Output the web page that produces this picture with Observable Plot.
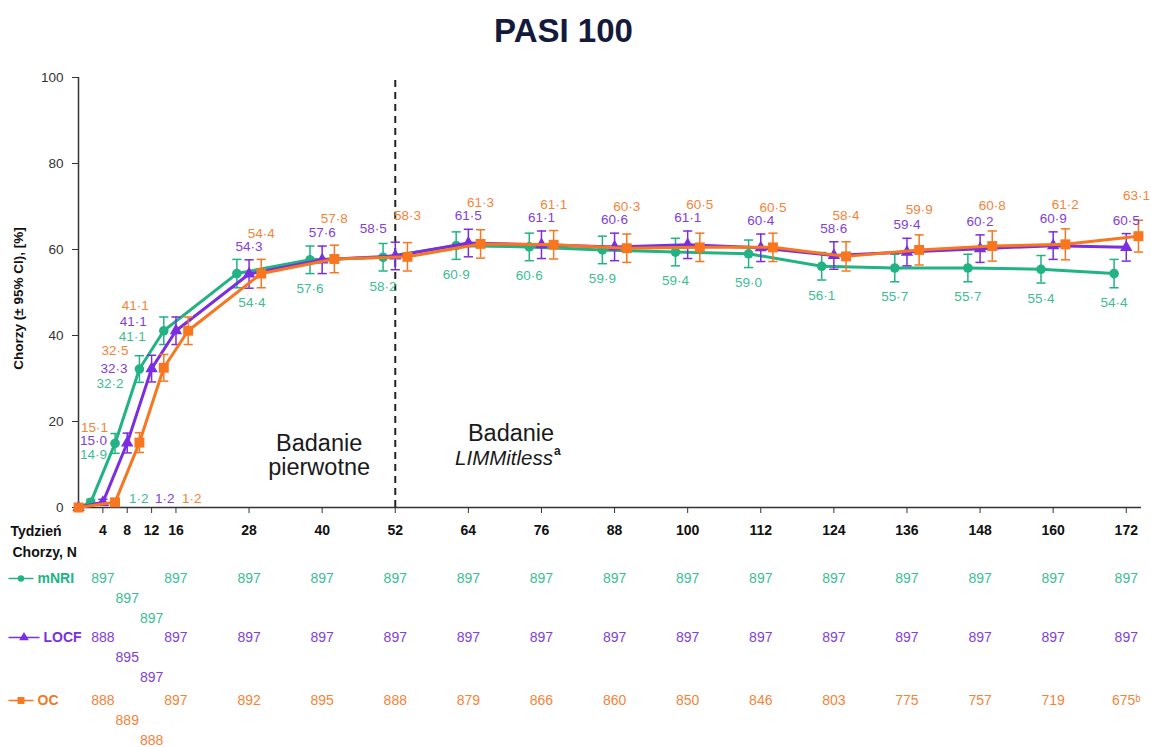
<!DOCTYPE html>
<html>
<head>
<meta charset="utf-8">
<script src="https://cdn.jsdelivr.net/npm/d3@7"></script>
<script src="https://cdn.jsdelivr.net/npm/@observablehq/plot@0.6"></script>
<style>
  html, body { margin: 0; padding: 0; background: #fff; }
  #title { width: 1151px; height: 56px; line-height: 62px; text-align: center; box-sizing: border-box; padding-right: 24px;
           font-family: "Liberation Sans", Arial, sans-serif; font-weight: bold; font-size: 33px; color: #141a3c; }
  #chart svg { display: block; }
</style>
</head>
<body>
<div id="title">PASI 100</div>
<div id="chart"></div>
<script>
// ---------- data ----------
const weeks = [0, 4, 8, 12, 16, 28, 40, 52, 64, 76, 88, 100, 112, 124, 136, 148, 160, 172];
const mnri  = [0, 1.2, 14.9, 32.2, 41.1, 54.4, 57.6, 58.2, 60.9, 60.6, 59.9, 59.4, 59.0, 56.1, 55.7, 55.7, 55.4, 54.4];
const locf  = [0, 1.2, 15.0, 32.3, 41.1, 54.3, 57.6, 58.5, 61.5, 61.1, 60.6, 61.1, 60.4, 58.6, 59.4, 60.2, 60.9, 60.5];
const oc    = [0, 1.2, 15.1, 32.5, 41.1, 54.4, 57.8, 58.3, 61.3, 61.1, 60.3, 60.5, 60.5, 58.4, 59.9, 60.8, 61.2, 63.1];
// 95% CI half-widths
const ciMnri = [0, 0.7, 2.3, 3.1, 3.2, 3.3, 3.2, 3.2, 3.2, 3.2, 3.2, 3.2, 3.2, 3.2, 3.2, 3.2, 3.2, 3.3];
const ciLocf = [0, 0.7, 2.3, 3.1, 3.2, 3.3, 3.2, 3.2, 3.2, 3.2, 3.2, 3.2, 3.2, 3.2, 3.2, 3.2, 3.2, 3.2];
const ciOc   = [0, 0.7, 2.3, 3.1, 3.2, 3.3, 3.2, 3.3, 3.3, 3.3, 3.3, 3.3, 3.3, 3.4, 3.5, 3.5, 3.6, 3.7];

const xTicks = [4, 8, 12, 16, 28, 40, 52, 64, 76, 88, 100, 112, 124, 136, 148, 160, 172];
const tableWeeks = [4, 8, 12, 16, 28, 40, 52, 64, 76, 88, 100, 112, 124, 136, 148, 160, 172];
const nMnri = [897, 897, 897, 897, 897, 897, 897, 897, 897, 897, 897, 897, 897, 897, 897, 897, 897];
const nLocf = [888, 895, 897, 897, 897, 897, 897, 897, 897, 897, 897, 897, 897, 897, 897, 897, 897];
const nOc   = ["888", "889", "888", "897", "892", "895", "888", "879", "866", "860", "850", "846", "803", "775", "757", "719", "675ᵇ"];

const seriesNames = ["mNRI", "LOCF", "OC"];
const yLabel = "Chorzy (± 95% CI), [%]";
const rowHeader = "Tydzień";
const tableHeader = "Chorzy, N";
const phase1 = "Badanie\npierwotne";
const phase2a = "Badanie";
const phase2b = "LIMMitless";

// ---------- style ----------
const SANS = "'Liberation Sans', Arial, sans-serif";
const colors = { mNRI: "#22b384", LOCF: "#7a2ee0", OC: "#f7761f" };
const textColors = { mNRI: "#3dbd93", LOCF: "#8140dc", OC: "#f3843a" };
const symbols = { mNRI: "circle", LOCF: "triangle", OC: "square" };
const radii = { mNRI: 4.8, LOCF: 4.6, OC: 5.6 };
const offsets = { mNRI: -2, LOCF: 0, OC: 2 }; // horizontal dodge, in weeks

const capSymbol = { draw(ctx, size) { const w = Math.sqrt(size / Math.PI); ctx.moveTo(-w, 0); ctx.lineTo(w, 0); } };
const fmt = v => v.toFixed(1).replace(".", "·");

const seriesData = {
  mNRI: { v: mnri, ci: ciMnri, n: nMnri },
  LOCF: { v: locf, ci: ciLocf, n: nLocf },
  OC:   { v: oc,   ci: ciOc,   n: nOc }
};

const marks = [];

// axes
marks.push(Plot.ruleY([0], { stroke: "#333", strokeWidth: 1.5 }));
marks.push(Plot.ruleX([0], { stroke: "#333", strokeWidth: 1.5 }));
marks.push(Plot.axisY({ ticks: [0, 20, 40, 60, 80, 100], tickSize: 6, tickPadding: 9, fontSize: 13.5, fontFamily: SANS, fill: "#333", stroke: "#333", label: null }));
marks.push(Plot.axisX(xTicks, { tickSize: 6, tickPadding: 12, fontSize: 14, fontWeight: "bold", fontFamily: SANS, fill: "#111", stroke: "#333", label: null }));
marks.push(Plot.ruleX([52], { y1: 99.3, y2: 0, stroke: "#222", strokeWidth: 2, strokeDasharray: "7,5" }));

// y label
marks.push(Plot.text([yLabel], { text: d => d, frameAnchor: "left", textAnchor: "middle", lineAnchor: "middle", rotate: -90, dx: -60, dy: 6, fontSize: 13.5, fontWeight: "bold", fontFamily: SANS, fill: "#111" }));

// phase annotations
marks.push(Plot.text([phase1], { x: 39.5, y: 12.1, text: d => d, fontSize: 23.5, lineHeight: 1.03, fontFamily: SANS, fill: "#1a1a1a" }));
marks.push(Plot.text([phase2a], { x: 71, y: 17.2, text: d => d, fontSize: 23.5, fontFamily: SANS, fill: "#1a1a1a" }));
marks.push(Plot.text([phase2b], { x: 71, y: 11.4, text: d => d, dx: 42, textAnchor: "end", fontSize: 20.5, fontStyle: "italic", fontFamily: SANS, fill: "#1a1a1a" }));
marks.push(Plot.text(["a"], { x: 71, y: 11.4, text: d => d, dx: 43, dy: -7, textAnchor: "start", fontSize: 12, fontWeight: "bold", fontFamily: SANS, fill: "#1a1a1a" }));

// series
for (const key of seriesNames) {
  const s = seriesData[key];
  const rows = weeks.map((w, i) => ({ week: w, v: s.v[i], lo: s.v[i] - s.ci[i], hi: s.v[i] + s.ci[i], xp: w === 0 ? 0 : w + offsets[key] }));
  const bars = rows.filter(d => d.week > 0);
  const c = colors[key];
  marks.push(Plot.line(rows, { x: "xp", y: "v", stroke: c, strokeWidth: 3 }));
  marks.push(Plot.ruleX(bars, { x: "xp", y1: "lo", y2: "hi", stroke: c, strokeWidth: 1.5 }));
  marks.push(Plot.dot(bars, { x: "xp", y: "lo", symbol: capSymbol, r: 4.6, stroke: c, strokeWidth: 1.5, fill: "none" }));
  marks.push(Plot.dot(bars, { x: "xp", y: "hi", symbol: capSymbol, r: 4.6, stroke: c, strokeWidth: 1.5, fill: "none" }));
  marks.push(Plot.dot(rows, { x: "xp", y: "v", symbol: symbols[key], r: radii[key], fill: c, stroke: "none" }));
}

// value labels
const early = {
  8:  { mNRI: [-8, 11],  LOCF: [-8, -2],  OC: [-7, -15] },
  12: { mNRI: [-16, 15], LOCF: [-12, 0],  OC: [-11, -17] },
  16: { mNRI: [-18, 6],  LOCF: [-17, -9], OC: [-15, -25] }
};
const week4dx = { mNRI: 36, LOCF: 62, OC: 89 };
const labelStyle = { fontSize: 13.5, fontFamily: SANS };
for (const key of seriesNames) {
  const s = seriesData[key];
  weeks.forEach((w, i) => {
    if (w === 0) return;
    const d = { week: w, v: s.v[i], top: Math.max(locf[i], oc[i]), label: fmt(s.v[i]) };
    const fill = textColors[key];
    if (w === 4) {
      marks.push(Plot.text([d], { x: "week", y: "v", text: "label", dx: week4dx[key], dy: -4, fill, ...labelStyle }));
    } else if (early[w]) {
      const [dx, dy] = early[w][key];
      marks.push(Plot.text([d], { x: r => r.week + offsets.mNRI, y: "v", text: "label", dx, dy, textAnchor: "end", fill, ...labelStyle }));
    } else if (key === "OC") {
      marks.push(Plot.text([d], { x: r => r.week + offsets.OC, y: "top", text: "label", dx: w === 172 ? -2 : 0, dy: -40, fill, ...labelStyle }));
    } else if (key === "LOCF") {
      marks.push(Plot.text([d], { x: r => r.week + offsets.LOCF, y: "v", text: "label", dx: w === 52 ? -22 : 0, dy: -27, fill, ...labelStyle }));
    } else {
      marks.push(Plot.text([d], { x: r => r.week + offsets.mNRI, y: "v", text: "label", dx: w === 28 ? 15 : 0, dy: 29, fill, ...labelStyle }));
    }
  });
}

// table below the axis
const tableStyle = { fontSize: 14, fontFamily: SANS, frameAnchor: "bottom", lineAnchor: "middle" };
marks.push(Plot.text([rowHeader], { text: d => d, frameAnchor: "bottom-left", lineAnchor: "middle", dx: -68, dy: 24, textAnchor: "start", fontSize: 14, fontWeight: "bold", fontFamily: SANS, fill: "#111" }));
marks.push(Plot.text([tableHeader], { text: d => d, frameAnchor: "bottom-left", lineAnchor: "middle", dx: -66, dy: 45, textAnchor: "start", fontSize: 14, fontWeight: "bold", fontFamily: SANS, fill: "#111" }));
const rowBase = { mNRI: 71, LOCF: 130, OC: 193 };
const legendGeom = {
  mNRI: { lineHalf: 12.5, cx: 20.5, textX: 37, r: 3.2 },
  LOCF: { lineHalf: 15.5, cx: 23.5, textX: 43, r: 3.6 },
  OC:   { lineHalf: 12.5, cx: 20.5, textX: 37, r: 3.9 }
};
const ML = 78;
for (const key of seriesNames) {
  const s = seriesData[key];
  const rows = tableWeeks.map((w, i) => ({ week: w, n: String(s.n[i]) }));
  const base = rowBase[key];
  const c = textColors[key];
  marks.push(Plot.text(rows.filter(d => d.week !== 8 && d.week !== 12), { x: "week", text: "n", dy: base, fill: c, ...tableStyle }));
  marks.push(Plot.text(rows.filter(d => d.week === 8), { x: "week", text: "n", dy: base + 20, fill: c, ...tableStyle }));
  marks.push(Plot.text(rows.filter(d => d.week === 12), { x: "week", text: "n", dy: base + 40, fill: c, ...tableStyle }));
  // legend entry
  const g = legendGeom[key];
  marks.push(Plot.dot([key], { frameAnchor: "bottom-left", dx: g.cx - ML, dy: base, symbol: capSymbol, r: g.lineHalf, stroke: colors[key], strokeWidth: 1.5, fill: "none" }));
  marks.push(Plot.dot([key], { frameAnchor: "bottom-left", dx: g.cx - ML, dy: base, symbol: symbols[key], r: g.r, fill: colors[key], stroke: "none" }));
  marks.push(Plot.text([key], { text: d => d, frameAnchor: "bottom-left", lineAnchor: "middle", dx: g.textX - ML, dy: base, textAnchor: "start", fontSize: 14, fontWeight: "bold", fontFamily: SANS, fill: colors[key] }));
}

const chart = Plot.plot({
  width: 1151,
  height: 691,
  marginTop: 21,
  marginBottom: 240,
  marginLeft: ML,
  marginRight: 10,
  style: { fontFamily: SANS, background: "#fff" },
  x: { domain: [0, 174.5], axis: null },
  y: { domain: [0, 100], axis: null },
  marks
});
document.getElementById("chart").appendChild(chart);
</script>
</body>
</html>
